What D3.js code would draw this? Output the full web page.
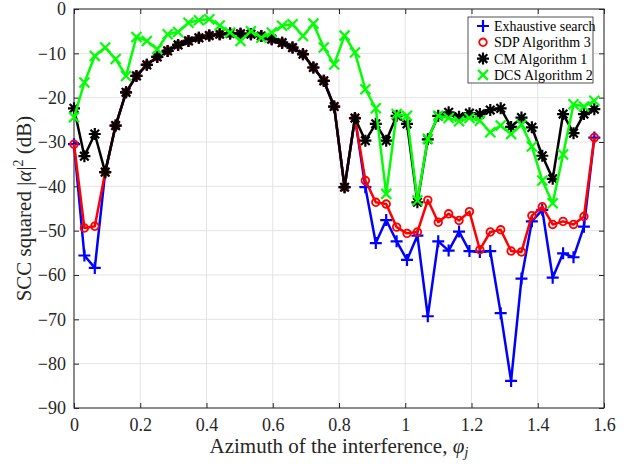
<!DOCTYPE html>
<html>
<head>
<meta charset="utf-8">
<script src="https://cdn.jsdelivr.net/npm/d3@7"></script>
<style>
  body { margin: 0; background: #fff; }
  svg text { font-family: "Liberation Serif", "Times New Roman", Times, serif !important; }
</style>
</head>
<body>
<svg id="chart" width="634" height="464"></svg>
<script>
// azimuth samples (rad)
const phi = [0, 0.0314, 0.0628, 0.0942, 0.1257, 0.1571, 0.1885, 0.2199, 0.2513, 0.2827,
  0.3142, 0.3456, 0.3770, 0.4084, 0.4398, 0.4712, 0.5027, 0.5341, 0.5655, 0.5969,
  0.6283, 0.6597, 0.6912, 0.7226, 0.7540, 0.7854, 0.8168, 0.8482, 0.8796, 0.9111,
  0.9425, 0.9739, 1.0053, 1.0367, 1.0681, 1.0996, 1.1310, 1.1624, 1.1938, 1.2252,
  1.2566, 1.2881, 1.3195, 1.3509, 1.3823, 1.4137, 1.4451, 1.4765, 1.5080, 1.5394, 1.5708];

const exhaustive = [-30.5, -55.6, -58.4, -36.8, -26.3, -18.8, -15.1, -12.6, -10.8, -9.45,
  -8.1, -7.2, -6.5, -6.0, -5.7, -5.5, -5.6, -5.7, -6.1, -6.8,
  -7.6, -8.7, -10.2, -13.2, -16.2, -22.0, -40.2, -24.6, -40.2, -52.8,
  -47.6, -52.4, -56.6, -51.1, -69.3, -52.4, -54.5, -50.2, -54.6, -54.8,
  -54.6, -68.6, -83.9, -60.8, -47.9, -45.3, -60.6, -55.1, -56.0, -49.1, -29.0];

const sdp = [-30.5, -49.4, -49.0, -36.8, -26.3, -18.8, -15.1, -12.6, -10.8, -9.45,
  -8.1, -7.2, -6.5, -6.0, -5.7, -5.5, -5.6, -5.7, -6.1, -6.8,
  -7.6, -8.7, -10.2, -13.2, -16.2, -22.0, -40.2, -24.6, -38.7, -43.6,
  -44.0, -49.2, -50.6, -50.3, -43.1, -48.1, -46.2, -47.7, -45.7, -54.3,
  -50.3, -49.8, -54.6, -54.8, -46.6, -44.6, -48.6, -47.9, -48.6, -46.8, -29.0];

const cm = [-22.4, -33.2, -28.2, -36.8, -26.3, -18.8, -15.1, -12.6, -10.8, -9.45,
  -8.1, -7.2, -6.5, -6.0, -5.7, -5.5, -5.6, -5.7, -6.1, -6.8,
  -7.6, -8.7, -10.2, -13.2, -16.2, -22.0, -40.2, -24.6, -29.7, -25.9,
  -29.7, -24.1, -25.9, -43.6, -29.4, -24.1, -23.3, -24.3, -23.5, -23.7,
  -22.8, -22.4, -26.6, -24.5, -26.7, -33.1, -38.3, -23.7, -28.0, -23.7, -22.6];

const dcs = [-24.4, -16.6, -10.6, -8.7, -11.3, -15.1, -6.3, -7.2, -9.1, -5.7,
  -5.2, -3.1, -2.55, -2.3, -3.7, -5.3, -7.2, -5.0, -6.5, -5.3,
  -3.8, -3.45, -6.1, -3.3, -8.7, -12.5, -6.0, -9.8, -18.1, -22.4,
  -41.7, -23.7, -24.1, -43.2, -29.3, -24.1, -24.6, -25.3, -24.6, -25.2,
  -27.8, -26.3, -28.2, -26.1, -31.0, -38.7, -43.8, -32.8, -21.5, -22.0, -20.7];

const xTicks = [0, 0.2, 0.4, 0.6, 0.8, 1, 1.2, 1.4, 1.6];
const yTicks = [0, -10, -20, -30, -40, -50, -60, -70, -80, -90];

const series = [
  { name: 'Exhaustive search', values: exhaustive, color: '#0000ff', marker: 'plus' },
  { name: 'SDP Algorithm 3', values: sdp, color: '#ff0000', marker: 'circle' },
  { name: 'CM Algorithm 1', values: cm, color: '#000000', marker: 'star' },
  { name: 'DCS Algorithm 2', values: dcs, color: '#00ff00', marker: 'cross' },
];

const serif = '"Liberation Serif", "Times New Roman", Times, serif';
const margin = { left: 74, right: 30, top: 9, bottom: 56 };
const width = 634, height = 464;
const svg = d3.select('#chart');

const x = d3.scaleLinear().domain([0, 1.6]).range([margin.left, width - margin.right]);
const y = d3.scaleLinear().domain([-90, 0]).range([height - margin.bottom, margin.top]);

const axisColor = '#262626';

// grid
svg.append('g').selectAll('line')
  .data(xTicks)
  .enter()
  .append('line')
  .attr('x1', d => x(d)).attr('x2', d => x(d))
  .attr('y1', y(-90)).attr('y2', y(0))
  .style('stroke', '#e3e3e3').style('stroke-width', 1);

svg.append('g').selectAll('line')
  .data(yTicks)
  .enter()
  .append('line')
  .attr('x1', x(0)).attr('x2', x(1.6))
  .attr('y1', d => y(d)).attr('y2', d => y(d))
  .style('stroke', '#e3e3e3').style('stroke-width', 1);

// axes with inward ticks
const tickLen = 5;
function styleAxis(g) {
  g.attr('font-family', serif);
  g.select('.domain').remove();
  g.selectAll('.tick line').style('stroke', axisColor);
  g.selectAll('.tick text')
    .attr('font-family', serif)
    .style('font-size', '18px')
    .style('fill', axisColor);
}

svg.append('g')
  .attr('transform', `translate(0,${y(-90)})`)
  .call(d3.axisBottom(x).tickValues(xTicks).tickSize(-tickLen).tickPadding(10)
    .tickFormat(d => String(d)))
  .call(styleAxis);

svg.append('g')
  .attr('transform', `translate(0,${y(0)})`)
  .call(d3.axisTop(x).tickValues(xTicks).tickSize(-tickLen).tickFormat(''))
  .call(styleAxis);

svg.append('g')
  .attr('transform', `translate(${x(0)},0)`)
  .call(d3.axisLeft(y).tickValues(yTicks).tickSize(-tickLen).tickPadding(8)
    .tickFormat(d => String(d).replace('-', '\u2212')))
  .call(styleAxis);

svg.append('g')
  .attr('transform', `translate(${x(1.6)},0)`)
  .call(d3.axisRight(y).tickValues(yTicks).tickSize(-tickLen).tickFormat(''))
  .call(styleAxis);

svg.append('rect')
  .attr('x', x(0)).attr('y', y(0))
  .attr('width', x(1.6) - x(0)).attr('height', y(-90) - y(0))
  .style('fill', 'none').style('stroke', axisColor).style('stroke-width', 1);

// markers
function markerPath(type) {
  if (type === 'plus') return 'M-6,0H6M0,-6V6';
  if (type === 'cross') return 'M-5,-5L5,5M-5,5L5,-5';
  if (type === 'star') return 'M-6,0H6M0,-6V6M-4.3,-4.3L4.3,4.3M-4.3,4.3L4.3,-4.3';
  return null;
}

function drawMarker(sel, s) {
  if (s.marker === 'circle') {
    sel.append('circle').attr('r', 3.8)
      .style('fill', 'none').style('stroke', s.color).style('stroke-width', 1.8);
  } else {
    sel.append('path').attr('d', markerPath(s.marker))
      .style('fill', 'none').style('stroke', s.color).style('stroke-width', 2.2);
  }
}

const line = d3.line()
  .x(d => x(d[0]))
  .y(d => y(d[1]));

series.forEach((s) => {
  const pts = phi.map((p, i) => [p, s.values[i]]);
  const g = svg.append('g');
  g.append('path')
    .datum(pts)
    .attr('d', line)
    .style('fill', 'none')
    .style('stroke', s.color)
    .style('stroke-width', 2.5)
    .style('stroke-linejoin', 'round');

  g.selectAll('g')
    .data(pts)
    .enter()
    .append('g')
    .attr('transform', d => `translate(${x(d[0])},${y(d[1])})`)
    .each(function () { drawMarker(d3.select(this), s); });
});

// legend
const lg = svg.append('g').attr('transform', 'translate(468,17)');
lg.append('rect')
  .attr('width', 125).attr('height', 66)
  .style('fill', '#fff').style('stroke', axisColor).style('stroke-width', 0.8);

series.forEach((s, i) => {
  const row = lg.append('g').attr('transform', `translate(15,${9 + i * 16.3})`);
  drawMarker(row, s);
  row.append('text')
    .attr('x', 11).attr('y', 5)
    .attr('font-family', serif)
    .style('font-size', '14px')
    .style('fill', '#000')
    .text(s.name);
});

// axis labels
const xl = svg.append('text')
  .attr('x', (x(0) + x(1.6)) / 2)
  .attr('y', 453)
  .attr('text-anchor', 'middle')
  .attr('font-family', serif)
  .style('font-size', '21px')
  .style('fill', axisColor);
xl.append('tspan').text('Azimuth of the interference, ');
xl.append('tspan').style('font-style', 'italic').text('φ');
xl.append('tspan').style('font-style', 'italic').style('font-size', '15px')
  .attr('dy', 4).text('j');

const yl = svg.append('text')
  .attr('transform', `translate(31,${(y(0) + y(-90)) / 2}) rotate(-90)`)
  .attr('text-anchor', 'middle')
  .attr('font-family', serif)
  .style('font-size', '21px')
  .style('fill', axisColor);
yl.append('tspan').text('SCC squared |');
yl.append('tspan').style('font-style', 'italic').text('α');
yl.append('tspan').text('|');
yl.append('tspan').style('font-size', '14px').attr('dy', -8).text('2');
yl.append('tspan').attr('dy', 8).text(' (dB)');
</script>
</body>
</html>
